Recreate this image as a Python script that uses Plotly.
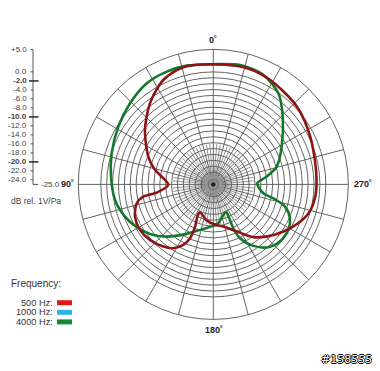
import plotly.graph_objects as go

# ---------------- data ----------------
# angles: degrees, 0 = front (top), counter-clockwise (90 = left)
theta_500 = [0, 14.4, 25.6, 37.9, 51.4, 66.8, 76, 82.9, 90.6, 98.2, 99.9, 103.8,
             112.4, 121.8, 131.2, 141.2, 147.9, 153.6, 156.6, 156.6, 153.7, 153.8,
             158.5, 169.7, 183, 193.7, 206.7, 217.4, 230.1, 241.5, 253.2, 263.2,
             276.2, 296.2, 313, 331.4, 343.8, 360]
db_500 = [1.71, 1.89, 0.73, -2.11, -5.58, -9.29, -11.64, -13.8, -15.0, -12.29, -9.2,
          -7.47, -6.18, -5.82, -6.29, -7.27, -8.27, -10.0, -11.98, -14.78, -17.02,
          -18.02, -17.96, -16.82, -16.0, -15.36, -13.27, -10.24, -7.51, -5.09, -2.87,
          -2.18, -1.98, -0.98, 0.4, 1.44, 1.89, 1.71]

theta_4000 = [0, 12.6, 22.4, 33.3, 45.7, 58.7, 73, 85.6, 99, 110, 119.2, 128, 138.2,
              151.7, 163.7, 180, 187.3, 196.6, 204.8, 205.3, 204.5, 206.4, 213.1,
              221.2, 229.4, 238.8, 246.2, 252.8, 257, 260, 271.6, 278.3, 285.7,
              298.9, 314.3, 324.5, 335.5, 347.4, 360]
db_4000 = [1.71, 2.04, 2.11, 1.91, 0.84, -0.29, -1.38, -2.2, -2.89, -4.11, -5.51,
           -7.13, -9.44, -12.51, -14.47, -15.78, -16.31, -17.69, -18.27, -16.69,
           -14.29, -11.64, -8.69, -6.44, -5.47, -5.51, -6.38, -8.33, -11.31, -13.71,
           -15.22, -13.0, -10.36, -7.64, -3.44, -0.11, 1.76, 2.16, 1.71]

series_names = ["500 Hz:", "1000 Hz:", "4000 Hz:"]
legend_colors = ["#e3161b", "#2ab4e6", "#13893a"]
curve_500_color = "#8e1414"
curve_4000_color = "#12792c"

scale_vals = [5, 0, -2, -4, -6, -8, -10, -12, -14, -16, -18, -20, -22, -24]
scale_text = ["+5.0", "0.0", "-2.0", "-4.0", "-6.0", "-8.0", "-10.0", "-12.0",
              "-14.0", "-16.0", "-18.0", "-20.0", "-22.0", "-24.0"]
scale_bold = [-2, -10, -20]

ring_db = [0.0, -1.31, -2.62, -3.93, -5.24, -6.55, -7.86, -9.17, -10.48, -11.79,
           -13.1, -14.41, -15.72, -17.03, -18.34, -19.65, -20.96, -22.27]

# ---------------- geometry ----------------
# the page body has an 8px margin: the figure is drawn 8px in from the top-left
OFF = 8
W, H = 380 - OFF, 371 - OFF
CX, CY, R = 213.3, 184.4, 135.0
RMIN, RMAX = -25.0, 5.0
GRID = "#646464"


def px(x):
    return (x - OFF) / W


def py(y):
    return 1 - (y - OFF) / H


def y_of_db(v):
    return CY - (v - RMIN) / (RMAX - RMIN) * R


fig = go.Figure()

# inner (5 degree) spokes
sp_t, sp_r = [], []
for a in range(0, 360, 5):
    if a % 15 == 0:
        continue
    sp_t += [a, a, None]
    sp_r += [RMIN, -16.0, None]
fig.add_trace(go.Scatterpolar(theta=sp_t, r=sp_r, mode="lines",
                              line=dict(color=GRID, width=0.7),
                              hoverinfo="skip", showlegend=False))
# dense spokes around the centre
sp_t, sp_r = [], []
for i in range(0, 144):
    a = i * 2.5
    sp_t += [a, a, None]
    sp_r += [RMIN, -23.0, None]
fig.add_trace(go.Scatterpolar(theta=sp_t, r=sp_r, mode="lines",
                              line=dict(color="#9a9a9a", width=0.5),
                              hoverinfo="skip", showlegend=False))

fig.add_trace(go.Scatterpolar(theta=theta_4000, r=db_4000, mode="lines",
                              line=dict(color=curve_4000_color, width=2.6,
                                        shape="spline", smoothing=0.8),
                              name="4000 Hz", showlegend=False))
fig.add_trace(go.Scatterpolar(theta=theta_500, r=db_500, mode="lines",
                              line=dict(color=curve_500_color, width=2.6,
                                        shape="spline", smoothing=0.8),
                              name="500 Hz", showlegend=False))

# centre marker
fig.add_trace(go.Scatterpolar(theta=[0], r=[RMIN], mode="markers",
                              marker=dict(size=10, color="rgba(0,0,0,0)",
                                          line=dict(color="#777777", width=1.5)),
                              hoverinfo="skip", showlegend=False))
fig.add_trace(go.Scatterpolar(theta=[0], r=[RMIN], mode="markers",
                              marker=dict(size=4.5, color="#222222"),
                              hoverinfo="skip", showlegend=False))

fig.update_layout(
    width=W, height=H, margin=dict(l=0, r=0, t=0, b=0),
    paper_bgcolor="white", plot_bgcolor="white", showlegend=False,
    font=dict(family="Liberation Sans, Arial, sans-serif", color="#333333"),
    polar=dict(
        domain=dict(x=[px(CX - R), px(CX + R)], y=[py(CY + R), py(CY - R)]),
        bgcolor="rgba(0,0,0,0)",
        radialaxis=dict(range=[RMIN, RMAX], tickvals=ring_db, showticklabels=False,
                        ticks="", showline=False, gridcolor=GRID, gridwidth=0.8),
        angularaxis=dict(rotation=90, direction="counterclockwise", tick0=0, dtick=15,
                         showticklabels=False, ticks="", gridcolor=GRID, gridwidth=0.8,
                         showline=True, linecolor=GRID, linewidth=1),
    ),
)

shapes = []
ann = []
LX = 33.0
# scale axis
shapes.append(dict(type="line", xref="paper", yref="paper", x0=px(LX), x1=px(LX),
                   y0=py(y_of_db(5)), y1=py(y_of_db(RMIN)),
                   line=dict(color="#555555", width=1)))
shapes.append(dict(type="line", xref="paper", yref="paper", x0=px(LX), x1=px(LX + 5),
                   y0=py(y_of_db(RMIN)), y1=py(y_of_db(RMIN)),
                   line=dict(color="#555555", width=1)))
for v, t in zip(scale_vals, scale_text):
    yy = y_of_db(v)
    if v in scale_bold:
        shapes.append(dict(type="line", xref="paper", yref="paper", x0=px(29), x1=px(38.5),
                           y0=py(yy), y1=py(yy), line=dict(color="#333333", width=1.6)))
        txt = "<b>%s</b>" % t
    else:
        shapes.append(dict(type="line", xref="paper", yref="paper", x0=px(30.5), x1=px(LX),
                           y0=py(yy), y1=py(yy), line=dict(color="#555555", width=1)))
        txt = t
    ann.append(dict(x=px(28.5), y=py(yy), xref="paper", yref="paper", text=txt,
                    showarrow=False, xanchor="right", yanchor="middle",
                    font=dict(size=8, color="#444444")))
ann.append(dict(x=px(39), y=py(CY), xref="paper", yref="paper", text="-25.0",
                showarrow=False, xanchor="left", yanchor="middle",
                font=dict(size=8, color="#444444")))
ann.append(dict(x=px(8.5), y=py(201), xref="paper", yref="paper", text="dB rel. 1V/Pa",
                showarrow=False, xanchor="left", yanchor="middle",
                font=dict(size=8.5, color="#444444")))

# angle labels
for text, x, y, xa in [("0˚", 213.5, 40, "center"), ("90˚", 75.5, CY, "right"),
                       ("270˚", 352, CY, "left"), ("180˚", 214, 330, "center")]:
    ann.append(dict(x=px(x), y=py(y), xref="paper", yref="paper", text="<b>%s</b>" % text,
                    showarrow=False, xanchor=xa, yanchor="middle",
                    font=dict(size=9, color="#222222")))

# legend
ann.append(dict(x=px(8.5), y=py(283), xref="paper", yref="paper", text="Frequency:",
                showarrow=False, xanchor="left", yanchor="middle",
                font=dict(size=10, color="#333333")))
for i, (name, col) in enumerate(zip(series_names, legend_colors)):
    yy = 302.7 + i * 9.6
    ann.append(dict(x=px(54.5), y=py(yy), xref="paper", yref="paper", text=name,
                    showarrow=False, xanchor="right", yanchor="middle",
                    font=dict(size=9.2, color="#333333")))
    shapes.append(dict(type="rect", xref="paper", yref="paper", x0=px(57), x1=px(72),
                       y0=py(yy + 2.5), y1=py(yy - 2.5), fillcolor=col, line=dict(width=0)))

# watermark
ann.append(dict(x=px(374), y=py(359), xref="paper", yref="paper", text="#158555",
                showarrow=False, xanchor="right", yanchor="middle",
                font=dict(size=11, color="white", family="DejaVu Sans, sans-serif",
                          shadow="1px 0 0 #000, -1px 0 0 #000, 0 1px 0 #000, 0 -1px 0 #000")))

fig.update_layout(shapes=shapes, annotations=ann)
fig.write_html("out.html")
